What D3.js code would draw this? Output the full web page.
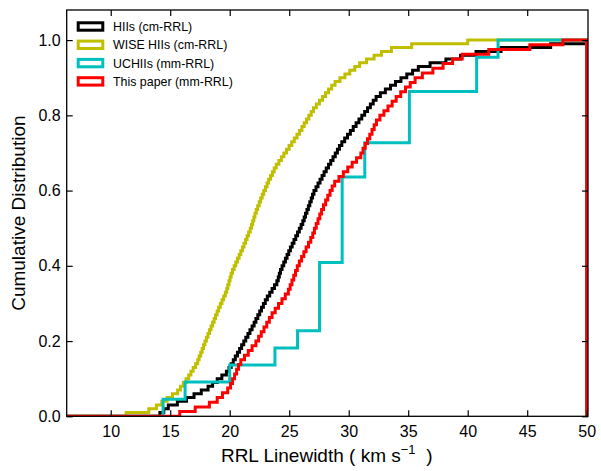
<!DOCTYPE html>
<html>
<head>
<meta charset="utf-8">
<script src="https://cdn.jsdelivr.net/npm/d3@7"></script>
<style>
  body { margin: 0; background: #fff; }
  svg { font-family: "Liberation Sans", Arial, sans-serif; }
</style>
</head>
<body>
<div id="chart"></div>
<script>
// sorted linewidths (km/s)
const hiiCm = [
  14.13, 14.46, 14.84, 15.6, 16.37, 17.0, 17.61, 18.18, 18.56, 18.95,
  19.34, 19.72, 19.94, 20.12, 20.30, 20.47, 20.65, 20.83, 21.0, 21.18,
  21.35, 21.53, 21.70, 21.88, 22.05, 22.2, 22.36, 22.52, 22.67, 22.83,
  22.99, 23.16, 23.36, 23.56, 23.76, 23.96, 24.08, 24.17, 24.27, 24.4,
  24.54, 24.68, 24.82, 24.96, 25.1, 25.25, 25.4, 25.55, 25.7, 25.85,
  26.0, 26.14, 26.26, 26.37, 26.49, 26.61, 26.73, 26.85, 26.96, 27.08,
  27.25, 27.42, 27.59, 27.76, 27.93, 28.11, 28.3, 28.49, 28.68, 28.87,
  29.05, 29.22, 29.42, 29.66, 29.9, 30.14, 30.38, 30.62, 30.86, 31.1,
  31.34, 31.58, 31.82, 32.06, 32.3, 32.66, 33.08, 33.51, 33.93, 34.39,
  34.88, 35.37, 35.85, 36.84, 38.17, 39.4, 40.7, 42.8, 46.97, 50.0
];
const wiseCm = [
  11.3, 13.2, 13.84, 14.29, 14.74, 15.19, 15.62, 15.86, 16.1, 16.33,
  16.55, 16.74, 16.93, 17.13, 17.31, 17.43, 17.56, 17.68, 17.8, 17.92,
  18.04, 18.17, 18.3, 18.43, 18.56, 18.69, 18.81, 18.94, 19.07, 19.21,
  19.35, 19.49, 19.63, 19.75, 19.84, 19.94, 20.03, 20.12, 20.23, 20.37,
  20.51, 20.65, 20.79, 20.93, 21.07, 21.2, 21.33, 21.46, 21.59, 21.72,
  21.83, 21.93, 22.03, 22.12, 22.23, 22.35, 22.48, 22.6, 22.73, 22.86,
  23.0, 23.14, 23.27, 23.43, 23.59, 23.74, 23.91, 24.13, 24.34, 24.55,
  24.77, 24.99, 25.21, 25.43, 25.65, 25.86, 26.07, 26.26, 26.46, 26.65,
  26.85, 27.04, 27.28, 27.54, 27.8, 28.05, 28.31, 28.57, 28.85, 29.26,
  29.68, 30.09, 30.51, 30.92, 31.5, 32.13, 32.75, 33.59, 35.29, 40.0
];
const uchiiMm = [
  14.4, 16.25, 20.0, 23.8, 25.7, 27.55, 27.55, 27.55, 27.55, 29.45,
  29.45, 29.45, 29.45, 29.45, 31.35, 31.35, 35.1, 35.1, 35.1, 40.75,
  40.75, 42.55
];
const thisPaper = [
  15.8, 17.1, 18.29, 18.95, 19.39, 19.83, 20.07, 20.24, 20.41, 20.58,
  20.74, 20.93, 21.24, 21.56, 21.88, 22.2, 22.43, 22.65, 22.88, 23.11,
  23.33, 23.56, 23.82, 24.1, 24.39, 24.67, 24.93, 25.08, 25.23, 25.38,
  25.53, 25.68, 25.85, 26.04, 26.23, 26.42, 26.62, 26.81, 26.98, 27.12,
  27.27, 27.42, 27.57, 27.72, 27.88, 28.06, 28.24, 28.43, 28.61, 28.82,
  29.18, 29.55, 29.92, 30.29, 30.66, 31.02, 31.2, 31.39, 31.58, 31.77,
  31.96, 32.14, 32.33, 32.62, 32.96, 33.3, 33.65, 33.99, 34.37, 34.77,
  35.17, 35.58, 36.19, 37.07, 37.93, 38.73, 39.54, 41.77, 45.22, 48.0
];

const seriesNames = [
  "HIIs (cm-RRL)", "WISE HIIs (cm-RRL)", "UCHIIs (mm-RRL)", "This paper (mm-RRL)"
];
const seriesValues = [hiiCm, wiseCm, uchiiMm, thisPaper];
const seriesColors = ["#000000", "#bfbf00", "#00bfbf", "#ff0000"];

const xTicks = [10, 15, 20, 25, 30, 35, 40, 45, 50];
const yTicks = [0, 0.2, 0.4, 0.6, 0.8, 1.0];

const width = 601, height = 471;
const plot = { left: 66.7, right: 586.7, top: 10, bottom: 416.3 };
const edge = plot.right + 1.3; // right spine sits just outside x = 50

const x = d3.scaleLinear().domain([6.3, 50]).range([plot.left, plot.right]);
const y = d3.scaleLinear().domain([0, 1.08]).range([plot.bottom, plot.top]);

const svg = d3.select("#chart")
  .append("svg")
  .attr("width", width)
  .attr("height", height);

svg.append("defs")
  .append("clipPath")
  .attr("id", "clip")
  .append("rect")
  .attr("x", plot.left)
  .attr("y", plot.top)
  .attr("width", edge - plot.left)
  .attr("height", plot.bottom - plot.top);

// cumulative step outline, closed down the right edge like a step histogram
function cdfPoints(values) {
  const n = values.length;
  const pts = [[x.domain()[0], 0]];
  values.forEach((v, i) => pts.push([v, (i + 1) / n]));
  pts.push([50, 1], [50, 0]);
  return pts;
}

const line = d3.line(d => x(d[0]), d => y(d[1])).curve(d3.curveStepAfter);

svg.append("g")
  .attr("clip-path", "url(#clip)")
  .selectAll("path")
  .data(seriesValues)
  .join("path")
  .attr("d", d => line(cdfPoints(d)))
  .attr("fill", "none")
  .attr("stroke", (d, i) => seriesColors[i])
  .attr("stroke-width", 3)
  .attr("stroke-linejoin", "miter");

// axes, ticks pointing inward on all four sides
const fontSize = 16;
svg.append("g")
  .attr("transform", `translate(0,${plot.bottom})`)
  .call(d3.axisBottom(x).tickValues(xTicks).tickSizeInner(-6).tickSizeOuter(0).tickPadding(9.6))
  .call(g => g.select(".domain").remove());

svg.append("g")
  .attr("transform", `translate(${plot.left},0)`)
  .call(d3.axisLeft(y).tickValues(yTicks).tickFormat(d3.format(".1f"))
    .tickSizeInner(-6).tickSizeOuter(0).tickPadding(6))
  .call(g => g.select(".domain").remove());

svg.append("g")
  .attr("transform", `translate(0,${plot.top})`)
  .call(d3.axisTop(x).tickValues(xTicks.slice(0, -1)).tickFormat("").tickSizeInner(-6).tickSizeOuter(0))
  .call(g => g.select(".domain").remove());

svg.append("g")
  .attr("transform", `translate(${edge},0)`)
  .call(d3.axisRight(y).tickValues(yTicks).tickFormat("").tickSizeInner(-6).tickSizeOuter(0))
  .call(g => g.select(".domain").remove());

svg.selectAll(".tick line").attr("stroke", "#000").attr("stroke-width", 1.2);
svg.selectAll(".tick text")
  .attr("fill", "#000")
  .style("font-size", fontSize + "px")
  .style("font-family", "'Liberation Sans', Arial, sans-serif");

svg.append("rect")
  .attr("x", plot.left)
  .attr("y", plot.top)
  .attr("width", edge - plot.left)
  .attr("height", plot.bottom - plot.top)
  .attr("fill", "none")
  .attr("stroke", "#000")
  .attr("stroke-width", 1.3);

// axis titles
const labelSize = 19;
const xLabel = svg.append("text")
  .attr("x", (plot.left + plot.right) / 2)
  .attr("y", 462)
  .attr("text-anchor", "middle")
  .style("font-size", labelSize + "px");
xLabel.append("tspan").text("RRL Linewidth ( km s");
xLabel.append("tspan").attr("dy", -8).style("font-size", "13px").text("\u22121");
xLabel.append("tspan").attr("dy", 8).text("\u00a0 )");

svg.append("text")
  .attr("transform", `translate(25,${(plot.top + plot.bottom) / 2}) rotate(-90)`)
  .attr("text-anchor", "middle")
  .style("font-size", labelSize + "px")
  .text("Cumulative Distribution");

// legend, no frame
const legend = svg.append("g");
const rowY = d3.scaleLinear().domain([0, 1]).range([26.5, 44.8]);
const item = legend.selectAll("g")
  .data(seriesNames)
  .join("g")
  .attr("transform", (d, i) => `translate(76.7,${rowY(i)})`);

item.append("rect")
  .attr("x", 1.5)
  .attr("y", -3.7)
  .attr("width", 24.6)
  .attr("height", 7.4)
  .attr("fill", "#fff")
  .attr("stroke", (d, i) => seriesColors[i])
  .attr("stroke-width", 3);

item.append("text")
  .attr("x", 36.3)
  .attr("y", 4.4)
  .style("font-size", "12.4px")
  .text(d => d);
</script>
</body>
</html>
